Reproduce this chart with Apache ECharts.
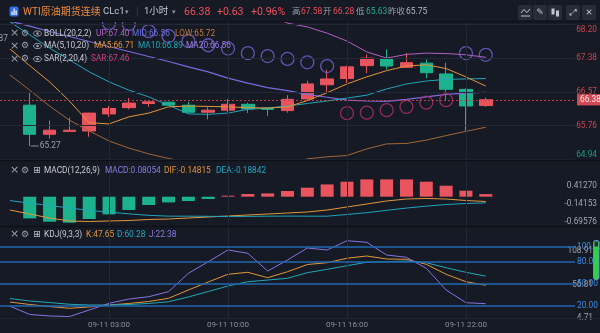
<!DOCTYPE html>
<html><head><meta charset="utf-8">
<script src="https://cdn.jsdelivr.net/npm/echarts@6/dist/echarts.min.js"></script>
<style>html,body{margin:0;padding:0;background:#161a25;}#c{width:600px;height:333px;}</style>
</head><body><div id="c"></div>
<script>
// ---------- data ----------
const categories = ['09-10 22:00','09-10 23:00','09-11 00:00','09-11 01:00','09-11 02:00','09-11 03:00','09-11 04:00','09-11 06:00','09-11 07:00','09-11 08:00','09-11 09:00','09-11 10:00','09-11 11:00','09-11 12:00','09-11 13:00','09-11 14:00','09-11 15:00','09-11 16:00','09-11 17:00','09-11 18:00','09-11 19:00','09-11 20:00','09-11 21:00','09-11 22:00','09-11 23:00','09-12 00:00','09-12 01:00','09-12 02:00','09-12 03:00'];
const timeLabels = ['09-11 03:00','09-11 10:00','09-11 16:00','09-11 22:00'];
const opens  = ['-',66.25,65.55,65.62,65.63,66.04,66.19,66.29,66.32,66.25,66.08,66.13,66.27,66.18,66.12,66.40,66.74,66.89,67.20,67.36,67.16,67.26,67.00,66.63,66.24];
const closes = ['-',65.55,65.65,65.65,66.06,66.17,66.30,66.33,66.25,66.08,66.13,66.27,66.16,66.15,66.39,66.76,66.88,67.17,67.38,67.19,67.27,67.03,66.63,66.23,66.38];
const lows   = ['-',65.27,65.45,65.61,65.49,65.97,66.15,66.21,66.25,66.08,65.91,66.09,66.06,65.99,66.07,66.37,66.55,66.78,67.02,67.11,67.14,66.90,66.37,65.63,66.21];
const highs  = ['-',66.54,65.88,65.95,66.07,66.23,66.42,66.37,66.33,66.33,66.20,66.40,66.31,66.20,66.49,66.84,67.10,67.20,67.47,67.59,67.50,67.35,67.27,66.65,66.43];
const ma5  = [67.60,67.20,66.81,66.35,65.83,65.80,65.97,66.06,66.21,66.23,66.22,66.21,66.19,66.18,66.21,66.36,66.55,66.76,66.93,67.08,67.19,67.22,67.13,66.93,66.71];
const ma10 = [68.25,67.94,67.62,67.34,67.05,66.81,66.61,66.45,66.25,66.04,66.03,66.06,66.15,66.18,66.23,66.29,66.35,66.42,66.49,66.64,66.76,66.83,66.87,66.88,66.89];
const ma20 = [68.27,68.15,68.02,67.90,67.78,67.66,67.54,67.42,67.30,67.17,67.05,66.90,66.78,66.67,66.60,66.51,66.44,66.37,66.35,66.34,66.39,66.45,66.51,66.54,66.56];
const bollUp  = [69.56,69.69,69.81,69.91,69.93,69.93,69.86,69.76,69.63,69.45,69.28,69.02,68.80,68.45,68.22,68.13,67.98,67.79,67.53,67.38,67.47,67.50,67.49,67.46,67.40];
const bollLow = [66.98,66.61,66.23,65.89,65.63,65.39,65.22,65.08,64.97,64.88,64.82,64.78,64.76,64.77,64.85,64.96,65.01,65.04,65.20,65.32,65.33,65.41,65.52,65.62,65.72];
const sar = ['-','-','-','-','-',68.22,68.20,68.03,67.91,67.79,67.69,67.61,67.50,67.43,67.36,67.28,67.19,66.06,66.07,66.13,66.21,66.31,66.37,67.50,67.46];
const macd = ['-',-0.668,-0.770,-0.801,-0.687,-0.545,-0.410,-0.256,-0.176,-0.132,-0.071,0.031,0.083,0.102,0.176,0.277,0.379,0.462,0.533,0.533,0.533,0.462,0.339,0.185,0.08054];
const dif  = [-0.41,-0.533,-0.656,-0.748,-0.764,-0.748,-0.733,-0.702,-0.687,-0.656,-0.625,-0.594,-0.564,-0.533,-0.502,-0.471,-0.410,-0.317,-0.225,-0.132,-0.071,-0.055,-0.071,-0.117,-0.14815];
const dea  = [-0.12,-0.199,-0.271,-0.348,-0.420,-0.475,-0.528,-0.574,-0.599,-0.600,-0.604,-0.610,-0.606,-0.600,-0.597,-0.600,-0.600,-0.548,-0.492,-0.420,-0.350,-0.290,-0.241,-0.210,-0.18842];
const kLine = [24.7,21.3,18.5,16.1,17.9,20.6,22.7,25.4,29.8,41.2,52.2,62.8,65.5,58.1,66.3,76.2,78.7,84.8,87.9,83.8,83.4,76.5,62.8,52.6,47.65];
const dLine = [29.5,26.1,24.0,21.6,20.6,20.6,21.3,22.7,25.1,31.6,39.1,46.7,52.6,54.9,57.3,65.0,69.6,74.6,79.3,80.1,81.0,78.7,71.8,65.5,60.28];
const jLine = [19.0,7.6,5.5,4.71,13.7,22.9,28.8,32.0,38.9,64.1,80.0,96.2,91.6,67.3,82.4,98.9,96.2,108.91,106.7,89.3,86.1,71.0,41.2,23.8,22.38];
const priceTicks = [68.20,67.38,66.57,65.76,64.94];
const macdTicks = [0.41270,-0.14153,-0.69576];
const kdjLevels = [100,80,50,20];
const kdjTicks = [108.91,56.81,4.71];
const lastPrice = 66.38, prevClose = 65.75;

// ---------- style ----------
const F = 'Roboto, "Noto Sans CJK SC", sans-serif';
const BG = '#161a25', RED = '#e9545e', GREEN = '#1cb28e', GRID = '#222835';
const C_MA5 = '#e3963a', C_MA10 = '#22a5b6', C_MA20 = '#7d68dc', C_UP = '#b45fc2', C_LOW = '#a2673a';

const candleData = categories.map((_, i) => (opens[i] === undefined || opens[i] === '-') ? '-' : [opens[i], closes[i], lows[i], highs[i]]);
const sarAbove = sar.map((v, i) => (v !== '-' && v > closes[i]) ? v : '-');
const sarBelow = sar.map((v, i) => (v !== '-' && v <= closes[i]) ? v : '-');

const vLines = timeLabels.map(t => ({ xAxis: t }));
const gridLineStyle = { color: GRID, width: 1, type: 'solid' };
function gridMark(extra) {
  return { silent: true, symbol: ['none','none'], label: { show: false }, lineStyle: gridLineStyle, animation: false, data: vLines.concat(extra || []) };
}

function T(x, y, text, fill, size, o) {
  o = o || {};
  return { type: 'text', x: x, y: y, z: 100, silent: true,
    style: { text: text, fill: fill, fontSize: size, fontFamily: o.ff || F, fontWeight: o.fw || 'normal',
      textAlign: o.align || 'left', align: o.align || 'left', textVerticalAlign: 'middle', verticalAlign: 'middle' } };
}
function legendIcons(y, third) {
  const g = [T(10, y, '×', '#9aa0ab', 11, { ff: 'DejaVu Sans' }), T(21, y, '⚙', '#9aa0ab', 9, { ff: 'DejaVu Sans' })];
  if (third === 'eye') {
    g.push({ type: 'ellipse', z: 100, silent: true, shape: { cx: 37.5, cy: y, rx: 4, ry: 2.6 }, style: { fill: 'none', stroke: '#9aa0ab', lineWidth: 1 } });
    g.push({ type: 'circle', z: 100, silent: true, shape: { cx: 37.5, cy: y, r: 1.3 }, style: { fill: '#9aa0ab' } });
  } else {
    g.push(T(33, y, '⊞', '#b0b5be', 9.5, { ff: 'DejaVu Sans' }));
  }
  return g;
}

const graphic = [
  { type: 'rect', z: 90, silent: true, shape: { x: 0, y: 0, width: 600, height: 21 }, style: { fill: BG } },
  { type: 'line', z: 91, silent: true, shape: { x1: 0, y1: 21.5, x2: 600, y2: 21.5 }, style: { stroke: '#0d1016', lineWidth: 1 } },
  { type: 'line', z: 91, silent: true, shape: { x1: 0, y1: 160.5, x2: 600, y2: 160.5 }, style: { stroke: '#0d1016', lineWidth: 1.5 } },
  { type: 'line', z: 91, silent: true, shape: { x1: 0, y1: 226.5, x2: 600, y2: 226.5 }, style: { stroke: '#0d1016', lineWidth: 1.5 } },
  { type: 'line', z: 91, silent: true, shape: { x1: 0, y1: 318.5, x2: 600, y2: 318.5 }, style: { stroke: '#1f2430', lineWidth: 1 } },
  // logo
  { type: 'rect', z: 100, silent: true, shape: { x: 9.5, y: 6.5, width: 9, height: 10, r: 2 }, style: { fill: '#2f6ee0' } },
  { type: 'rect', z: 101, silent: true, shape: { x: 11.5, y: 11.5, width: 1.2, height: 3.5 }, style: { fill: '#fff' } },
  { type: 'rect', z: 101, silent: true, shape: { x: 13.5, y: 8.5, width: 1.2, height: 6.5 }, style: { fill: '#fff' } },
  { type: 'rect', z: 101, silent: true, shape: { x: 15.5, y: 10.5, width: 1.2, height: 4.5 }, style: { fill: '#fff' } },
  T(23, 12, 'WTI原油期货连续', '#ee8a3a', 10),
  T(103, 12, 'CLc1', '#c5c9d1', 9.5),
  T(125, 12, '▾', '#8a909c', 7, { ff: 'DejaVu Sans' }),
  T(136, 12, '|', '#3a404c', 10),
  T(144, 12, '1小时', '#c5c9d1', 9.5),
  T(172, 12, '▾', '#8a909c', 7, { ff: 'DejaVu Sans' }),
  T(184, 12, '66.38', '#f0505b', 10.5),
  T(217, 12, '+0.63', '#f0505b', 10.5),
  T(251, 12, '+0.96%', '#f0505b', 10.5),
  T(292, 12, '高', '#9aa0ab', 8.5),
  T(301, 12, '67.58', '#e6505a', 8.5),
  T(323, 12, '开', '#9aa0ab', 8.5),
  T(333, 12, '66.28', '#e6505a', 8.5),
  T(356, 12, '低', '#9aa0ab', 8.5),
  T(366, 12, '65.63', '#22b08a', 8.5),
  T(388, 12, '昨收', '#9aa0ab', 8.5),
  T(406, 12, '65.75', '#b4b8c0', 8.5),
  // top-right buttons
  { type: 'rect', z: 100, silent: true, shape: { x: 518, y: 5, width: 14, height: 15, r: 2 }, style: { fill: '#272c39' } },
  { type: 'polyline', z: 101, silent: true, shape: { points: [[521, 13], [524, 9.5], [527, 12.5], [530, 9]] }, style: { stroke: '#c0c4cc', fill: 'none', lineWidth: 1 } },
  { type: 'line', z: 101, silent: true, shape: { x1: 521, y1: 16, x2: 530, y2: 16 }, style: { stroke: '#c0c4cc', lineWidth: 1 } },
  { type: 'rect', z: 100, silent: true, shape: { x: 533, y: 5, width: 14, height: 15, r: 2 }, style: { fill: '#272c39' } },
  T(540, 12.5, '✎', '#c0c4cc', 9, { ff: 'DejaVu Sans', align: 'center' }),
  { type: 'rect', z: 100, silent: true, shape: { x: 548, y: 5, width: 14, height: 15, r: 2 }, style: { fill: '#272c39' } },
  { type: 'rect', z: 101, silent: true, shape: { x: 551.5, y: 8.5, width: 3, height: 6 }, style: { fill: '#c0c4cc' } },
  { type: 'rect', z: 101, silent: true, shape: { x: 556, y: 10.5, width: 3, height: 6 }, style: { fill: '#c0c4cc' } },
  { type: 'rect', z: 100, silent: true, shape: { x: 566, y: 5, width: 14, height: 15, r: 2 }, style: { fill: '#272c39' } },
  T(573, 12.5, '⤢', '#c0c4cc', 9, { ff: 'DejaVu Sans', align: 'center' }),
  { type: 'rect', z: 100, silent: true, shape: { x: 582, y: 5, width: 14, height: 15, r: 2 }, style: { fill: '#272c39' } },
  T(589, 12.5, '✕', '#c0c4cc', 8.5, { ff: 'DejaVu Sans', align: 'center' }),
  // main legends
  T(-13, 38.5, '67.87', '#9aa0ab', 8.3),
  ...legendIcons(33.5, 'eye'),
  T(44, 33.5, 'BOLL(20,2,2)', '#c8cbd2', 8.3),
  T(96, 33.5, 'UP:67.40', C_UP, 8.3),
  T(132, 33.5, 'MID:66.56', '#6c6fdf', 8.3),
  T(175, 33.5, 'LOW:65.72', '#c07a3c', 8.3),
  ...legendIcons(46, 'eye'),
  T(44, 46, 'MA(5,10,20)', '#c8cbd2', 8.3),
  T(94, 46, 'MA5:66.71', C_MA5, 8.3),
  T(138, 46, 'MA10:66.89', C_MA10, 8.3),
  T(186, 46, 'MA20:66.56', '#9b7ee6', 8.3),
  ...legendIcons(59, 'eye'),
  T(44, 59, 'SAR(2,20,4)', '#c8cbd2', 8.3),
  T(91, 59, 'SAR:67.46', '#d0407e', 8.3),
  // MACD legend
  ...legendIcons(170.5, 'box'),
  T(44, 170.5, 'MACD(12,26,9)', '#c8cbd2', 8.3),
  T(105, 170.5, 'MACD:0.08054', '#8d7ce0', 8.3),
  T(164, 170.5, 'DIF:-0.14815', C_MA5, 8.3),
  T(216, 170.5, 'DEA:-0.18842', '#26a6c0', 8.3),
  // KDJ legend
  ...legendIcons(234.5, 'box'),
  T(44, 234.5, 'KDJ(9,3,3)', '#c8cbd2', 8.3),
  T(86, 234.5, 'K:47.65', C_MA5, 8.3),
  T(117, 234.5, 'D:60.28', '#26a6c0', 8.3),
  T(149, 234.5, 'J:22.38', '#8d7ce0', 8.3),
  // scrollbar
  { type: 'rect', z: 100, silent: true, shape: { x: 593.5, y: 240.5, width: 5.5, height: 39, r: 2 }, style: { fill: '#2fd04a', stroke: '#6d8fc9', lineWidth: 1 } },
  { type: 'rect', z: 101, silent: true, shape: { x: 594.5, y: 241.5, width: 3.5, height: 5 }, style: { fill: '#2a2f38' } }
];

const xBase = { type: 'category', data: categories, boundaryGap: true, axisLine: { show: false }, axisTick: { show: false }, splitLine: { show: false }, axisPointer: { show: false } };

const option = {
  backgroundColor: BG,
  animation: false,
  textStyle: { fontFamily: F },
  grid: [
    { left: -19.5, width: 594.5, top: 20, height: 140 },
    { left: -19.5, width: 594.5, top: 160, height: 66 },
    { left: -19.5, width: 594.5, top: 226, height: 92 }
  ],
  xAxis: [
    Object.assign({}, xBase, { gridIndex: 0, axisLabel: { show: false } }),
    Object.assign({}, xBase, { gridIndex: 1, axisLabel: { show: false } }),
    Object.assign({}, xBase, { gridIndex: 2, axisLabel: { show: true, color: '#8a909b', fontSize: 8, fontFamily: F, margin: 3,
      interval: (i, v) => timeLabels.indexOf(v) >= 0 } })
  ],
  yAxis: [
    { type: 'value', gridIndex: 0, position: 'right', min: 64.933, max: 68.296, scale: true,
      axisLine: { show: false }, axisTick: { show: false }, splitLine: { show: false },
      axisLabel: { customValues: priceTicks, align: 'right', margin: 22, fontSize: 8.3, fontFamily: F,
        formatter: v => {
          const s = v.toFixed(2);
          if (Math.abs(v - 68.20) < 1e-6) return '{rt|' + s + '}';
          if (Math.abs(v - 64.94) < 1e-6) return '{gb|' + s + '}';
          return (v >= prevClose ? '{r|' : '{g|') + s + '}';
        },
        rich: {
          r: { color: '#c9464f', fontSize: 8.3, fontFamily: F },
          g: { color: '#1a9e80', fontSize: 8.3, fontFamily: F },
          rt: { color: '#c9464f', fontSize: 8.3, fontFamily: F, padding: [12, 0, 0, 0] },
          gb: { color: '#1a9e80', fontSize: 8.3, fontFamily: F, padding: [0, 0, 9, 0] }
        } } },
    { type: 'value', gridIndex: 1, position: 'right', min: -0.9024, max: 1.1304,
      axisLine: { show: false }, axisTick: { show: false }, splitLine: { show: false },
      axisLabel: { customValues: macdTicks, align: 'right', margin: 22, fontSize: 8.3, fontFamily: F,
        formatter: v => '{a|' + v.toFixed(5) + '}',
        rich: { a: { color: '#a0a5b0', fontSize: 8.3, fontFamily: F, padding: [5, 0, 0, 0] } } } },
    { type: 'value', gridIndex: 2, position: 'right', min: 2.747, max: 129.12,
      axisLine: { show: false }, axisTick: { show: false }, splitLine: { show: false }, axisLabel: { show: false } },
    { type: 'value', gridIndex: 2, position: 'right', min: 4.71, max: 147.79,
      axisLine: { show: false }, axisTick: { show: false }, splitLine: { show: false },
      axisLabel: { customValues: kdjTicks, align: 'right', margin: 18, fontSize: 8.3, fontFamily: F, color: '#9aa0ab',
        formatter: v => v.toFixed(2) } }
  ],
  series: [
    { type: 'line', xAxisIndex: 0, yAxisIndex: 0, data: ma5, symbol: 'none', silent: true, z: 0,
      lineStyle: { opacity: 0 }, markLine: gridMark(priceTicks.map(p => ({ yAxis: p }))) },
    { type: 'line', xAxisIndex: 1, yAxisIndex: 1, data: dif, symbol: 'none', silent: true, z: 0,
      lineStyle: { opacity: 0 }, markLine: gridMark() },
    { type: 'line', xAxisIndex: 2, yAxisIndex: 2, data: kLine, symbol: 'none', silent: true, z: 0,
      lineStyle: { opacity: 0 }, markLine: gridMark() },
    { type: 'line', xAxisIndex: 2, yAxisIndex: 2, data: kLine, symbol: 'none', silent: true, z: 1,
      lineStyle: { opacity: 0 },
      markLine: { silent: true, symbol: ['none', 'none'], animation: false,
        lineStyle: { color: '#2168b2', width: 1.5, type: 'solid' },
        label: { show: true, position: 'end', distance: 2, color: '#3a8ee6', fontSize: 8.3, fontFamily: F, formatter: p => Number(p.value).toFixed(2) },
        data: kdjLevels.map(v => ({ yAxis: v })) } },
    { name: 'K', type: 'candlestick', xAxisIndex: 0, yAxisIndex: 0, data: candleData, barWidth: 13, z: 2,
      itemStyle: { color: RED, color0: GREEN, borderColor: RED, borderColor0: GREEN, borderWidth: 1 },
      markLine: { silent: true, symbol: ['none', 'none'], animation: false,
        lineStyle: { color: '#c9444f', width: 1, type: [2, 2], opacity: 0.9 },
        label: { show: true, position: 'end', distance: 2, color: '#fff', backgroundColor: '#e5505b', padding: [2, 3, 1, 3],
          fontSize: 8.3, fontFamily: F, formatter: p => Number(p.value).toFixed(2) },
        data: [{ yAxis: lastPrice }] },
      markPoint: { silent: true, animation: false, symbol: 'rect', symbolSize: [8, 1], symbolOffset: [5, 0],
        itemStyle: { color: '#8a8f9c' },
        label: { show: true, position: 'right', distance: 1, color: '#9aa0ab', fontSize: 8.3, fontFamily: F,
          formatter: p => Number(p.value).toFixed(2) },
        data: [{ type: 'min', valueDim: 'lowest' }] } },
    { name: 'BOLL UP', type: 'line', xAxisIndex: 0, yAxisIndex: 0, data: bollUp, symbol: 'none', z: 3, lineStyle: { color: C_UP, width: 1 } },
    { name: 'BOLL LOW', type: 'line', xAxisIndex: 0, yAxisIndex: 0, data: bollLow, symbol: 'none', z: 3, lineStyle: { color: C_LOW, width: 1 } },
    { name: 'MA20', type: 'line', xAxisIndex: 0, yAxisIndex: 0, data: ma20, symbol: 'none', z: 3, lineStyle: { color: C_MA20, width: 1.2 } },
    { name: 'MA10', type: 'line', xAxisIndex: 0, yAxisIndex: 0, data: ma10, symbol: 'none', z: 3, lineStyle: { color: C_MA10, width: 1 } },
    { name: 'MA5', type: 'line', xAxisIndex: 0, yAxisIndex: 0, data: ma5, symbol: 'none', z: 3, lineStyle: { color: C_MA5, width: 1 } },
    { name: 'SAR+', type: 'scatter', xAxisIndex: 0, yAxisIndex: 0, data: sarAbove, symbol: 'circle', symbolSize: 13, z: 4,
      itemStyle: { color: 'rgba(0,0,0,0)', borderColor: '#7563d2', borderWidth: 1.3 } },
    { name: 'SAR-', type: 'scatter', xAxisIndex: 0, yAxisIndex: 0, data: sarBelow, symbol: 'circle', symbolSize: 13, z: 4,
      itemStyle: { color: 'rgba(0,0,0,0)', borderColor: '#b3306d', borderWidth: 1.3 } },
    { name: 'MACD', type: 'bar', xAxisIndex: 1, yAxisIndex: 1, data: macd, barWidth: 13, z: 2,
      itemStyle: { color: p => (p.value >= 0 ? RED : GREEN) } },
    { name: 'DIF', type: 'line', xAxisIndex: 1, yAxisIndex: 1, data: dif, symbol: 'none', z: 3, lineStyle: { color: C_MA5, width: 1 } },
    { name: 'DEA', type: 'line', xAxisIndex: 1, yAxisIndex: 1, data: dea, symbol: 'none', z: 3, lineStyle: { color: '#22a4bb', width: 1 } },
    { name: 'K', type: 'line', xAxisIndex: 2, yAxisIndex: 2, data: kLine, symbol: 'none', z: 3, lineStyle: { color: C_MA5, width: 1 } },
    { name: 'D', type: 'line', xAxisIndex: 2, yAxisIndex: 2, data: dLine, symbol: 'none', z: 3, lineStyle: { color: '#22a8b5', width: 1 } },
    { name: 'J', type: 'line', xAxisIndex: 2, yAxisIndex: 2, data: jLine, symbol: 'none', z: 3, lineStyle: { color: '#8a72e2', width: 1 } }
  ],
  graphic: graphic
};

const chart = echarts.init(document.getElementById('c'), null, { renderer: 'canvas', width: 600, height: 333 });
chart.setOption(option);
</script></body></html>
